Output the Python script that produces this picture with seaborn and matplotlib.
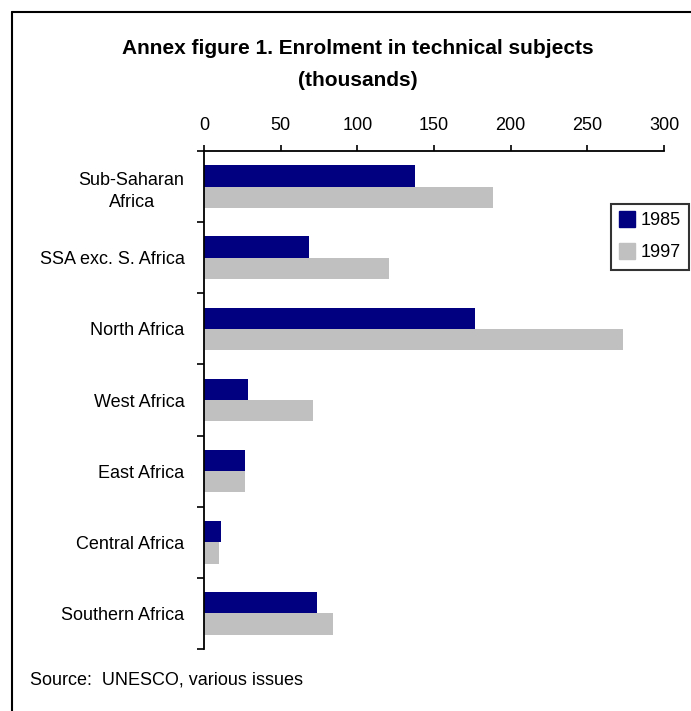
import numpy as np
import pandas as pd
import seaborn as sns
import matplotlib.pyplot as plt
from matplotlib.lines import Line2D

regions = ['Sub-Saharan\nAfrica', 'SSA exc. S. Africa', 'North Africa', 'West Africa',
           'East Africa', 'Central Africa', 'Southern Africa']
years = ['1985', '1997']
enrol_1985 = [137.5, 68.5, 176.5, 29, 26.5, 11, 73.5]
enrol_1997 = [188.5, 120.5, 273, 71, 26.5, 10, 84]

df = pd.DataFrame({
    'region': regions * 2,
    'year': [years[0]] * len(regions) + [years[1]] * len(regions),
    'value': enrol_1985 + enrol_1997,
})

sns.set_style('white')
plt.rcParams['font.family'] = ['Liberation Sans', 'DejaVu Sans']
plt.rcParams['text.color'] = 'black'
plt.rcParams['xtick.color'] = 'black'
plt.rcParams['ytick.color'] = 'black'

fig = plt.figure(figsize=(6.91, 7.11), dpi=100)
ax = fig.add_axes([204 / 691, 1 - 649 / 711, 460 / 691, 498 / 711])

sns.barplot(data=df, x='value', y='region', hue='year', order=regions, hue_order=years,
            palette={'1985': '#000080', '1997': '#C0C0C0'}, orient='h', width=0.6,
            saturation=1, ax=ax, legend=False, linewidth=0, edgecolor='none')

ax.set_xlim(0, 300)
ax.set_ylim(6.5, -0.5)
ax.set_xticks(np.arange(0, 301, 50))
ax.xaxis.tick_top()
ax.tick_params(axis='x', direction='out', length=4.5, width=1.2, pad=8, labelsize=13)
ax.set_yticks(range(len(regions)))
ax.set_yticklabels(regions, multialignment='center', linespacing=1.45)
ax.set_yticks(np.arange(-0.5, len(regions), 1), minor=True)
ax.tick_params(axis='y', which='major', length=0, pad=14, labelsize=13)
ax.tick_params(axis='y', which='minor', direction='out', length=5, width=1.2, left=True)
ax.set_xlabel('')
ax.set_ylabel('')

for s in ['right', 'bottom']:
    ax.spines[s].set_visible(False)
for s in ['left', 'top']:
    ax.spines[s].set_color('black')
    ax.spines[s].set_linewidth(1.3)

handles = [Line2D([], [], marker='s', linestyle='', markersize=11, color=c, label=y)
           for c, y in zip(['#000080', '#C0C0C0'], years)]
leg = fig.legend(handles=handles, loc='upper left', bbox_to_anchor=(611 / 691, 1 - 204 / 711),
                 frameon=True, fancybox=False, fontsize=13, handletextpad=0.3,
                 borderpad=0.45, labelspacing=0.85, handlelength=0.9, borderaxespad=0)
leg.get_frame().set_edgecolor('black')
leg.get_frame().set_linewidth(1.5)

fig.text(358 / 691, 1 - 48 / 711, 'Annex figure 1. Enrolment in technical subjects',
         ha='center', va='center', fontsize=15, fontweight='bold')
fig.text(358 / 691, 1 - 80 / 711, '(thousands)', ha='center', va='center',
         fontsize=15, fontweight='bold')
fig.text(30 / 691, 1 - 680 / 711, 'Source:  UNESCO, various issues', ha='left',
         va='center', fontsize=13)

# frame around the figure (left and top edges visible)
fig.add_artist(Line2D([11.5 / 691, 11.5 / 691], [0, 1 - 12 / 711], color='black', lw=1.5))
fig.add_artist(Line2D([11.5 / 691, 1], [1 - 12 / 711, 1 - 12 / 711], color='black', lw=1.5))

fig.savefig('out.png', dpi=100)
